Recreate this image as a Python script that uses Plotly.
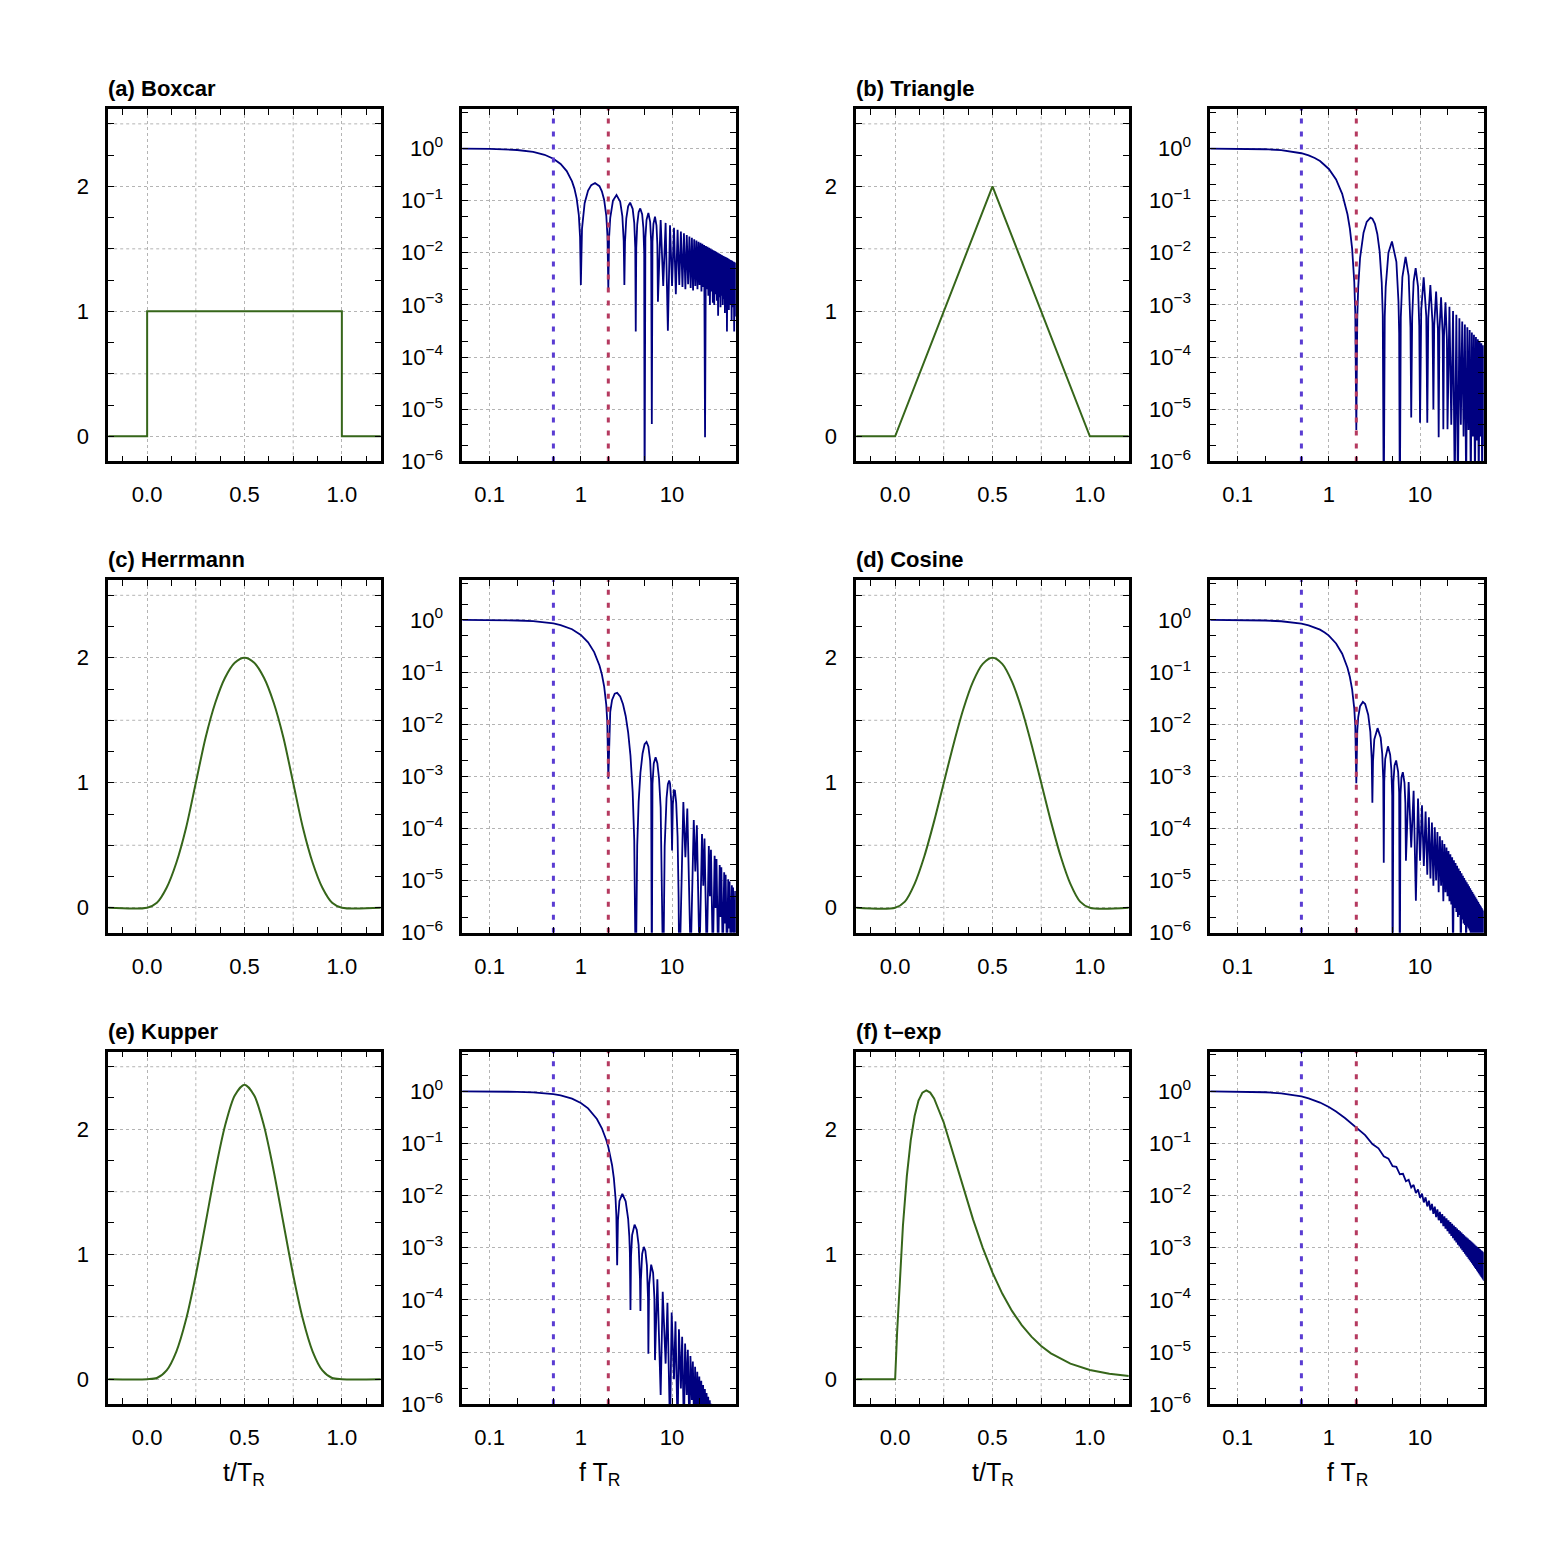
import math
import plotly.graph_objects as go

# ---------------- source time functions (t / T_R) ----------------
box_t = [-0.2, 0.0, 0.0, 1.0, 1.0, 1.2]
box_s = [0, 0, 1, 1, 0, 0]

tri_t = [-0.2, 0.0, 0.5, 1.0, 1.2]
tri_s = [0, 0, 2, 0, 0]

bump_t = [-0.2, 0.0, 0.05, 0.1, 0.15, 0.2, 0.25, 0.3, 0.35, 0.4, 0.45, 0.5,
          0.55, 0.6, 0.65, 0.7, 0.75, 0.8, 0.85, 0.9, 0.95, 1.0, 1.2]
herr_s = [0, 0, 0.04, 0.16, 0.36, 0.64, 1.0, 1.36, 1.64, 1.84, 1.96, 2.0,
          1.96, 1.84, 1.64, 1.36, 1.0, 0.64, 0.36, 0.16, 0.04, 0, 0]
cos_s = [0, 0, 0.049, 0.191, 0.412, 0.691, 1.0, 1.309, 1.588, 1.809, 1.951, 2.0,
         1.951, 1.809, 1.588, 1.309, 1.0, 0.691, 0.412, 0.191, 0.049, 0, 0]
kup_s = [0, 0, 0.009, 0.070, 0.221, 0.479, 0.833, 1.248, 1.666, 2.027, 2.270, 2.356,
         2.270, 2.027, 1.666, 1.248, 0.833, 0.479, 0.221, 0.070, 0.009, 0, 0]

texp_t = [-0.2, 0.0, 0.01, 0.02, 0.03, 0.04, 0.06, 0.08, 0.10, 0.12, 0.14, 0.16, 0.18, 0.20,
          0.25, 0.30, 0.35, 0.40, 0.45, 0.50, 0.55, 0.60, 0.65, 0.70, 0.75, 0.80, 0.90,
          1.00, 1.10, 1.20]
texp_s = [0, 0, 0.371, 0.696, 0.981, 1.228, 1.625, 1.910, 2.106, 2.229, 2.293, 2.311, 2.293, 2.247,
          2.052, 1.798, 1.532, 1.279, 1.051, 0.853, 0.685, 0.546, 0.432, 0.340, 0.266, 0.207, 0.124,
          0.074, 0.043, 0.025]

# ---------------- amplitude spectra (f T_R) ----------------
# smooth part + first lobes
box_f = [0.05, 0.1, 0.2, 0.3, 0.4, 0.5, 0.6, 0.7, 0.8, 0.85, 0.9, 0.95, 0.98, 1.0,
         1.03, 1.1, 1.2, 1.3, 1.43, 1.6, 1.7, 1.8, 1.9, 1.96, 2.0,
         2.04, 2.1, 2.25, 2.46, 2.7, 2.85, 2.95, 3.0,
         3.05, 3.15, 3.3, 3.47, 3.7, 3.85, 3.95, 4.0,
         4.05, 4.15, 4.3, 4.48, 4.7, 4.85, 4.95, 5.0,
         5.1, 5.25, 5.5, 5.75, 5.9, 6.0,
         6.1, 6.25, 6.5, 6.75, 6.9, 7.0]
box_amp = [0.996, 0.984, 0.935, 0.858, 0.757, 0.637, 0.505, 0.368, 0.234, 0.170, 0.109, 0.0526, 0.0204, 0.0024,
           0.0291, 0.0894, 0.156, 0.198, 0.217, 0.189, 0.151, 0.104, 0.0518, 0.0203, 0.0020,
           0.0196, 0.0468, 0.100, 0.128, 0.0954, 0.0507, 0.0169, 0.0024,
           0.0163, 0.0459, 0.078, 0.0913, 0.0696, 0.0375, 0.0126, 3.1e-4,
           0.0123, 0.0348, 0.0599, 0.0709, 0.0548, 0.0298, 0.0101, 1e-7,
           0.0193, 0.0429, 0.0579, 0.0392, 0.0167, 5.2e-6,
           0.0161, 0.036, 0.049, 0.0333, 0.0143, 1.15e-3]

# dense lobes: peak then notch
half_f = [7.5, 8.5, 9.5, 10.5, 11.5, 12.5, 13.5, 14.5, 15.5, 16.5, 17.5, 18.5, 19.5, 20.5,
          21.5, 22.5, 23.5, 24.5, 25.5, 26.5, 27.5, 28.5, 29.5, 30.5, 31.5, 32.5, 33.5, 34.5,
          35.5, 36.5, 37.5, 38.5, 39.5, 40.5, 41.5, 42.5, 43.5, 44.5, 45.5, 46.5, 47.5, 48.5, 49.5]
whole_f = [8, 9, 10, 11, 12, 13, 14, 15, 16, 17, 18, 19, 20, 21, 22, 23, 24, 25, 26, 27, 28,
           29, 30, 31, 32, 33, 34, 35, 36, 37, 38, 39, 40, 41, 42, 43, 44, 45, 46, 47, 48, 49, 50]

box_peak_amp = [0.0424, 0.0374, 0.0335, 0.0303, 0.0277, 0.0255, 0.0236, 0.0220, 0.0205, 0.0193,
                0.0182, 0.0172, 0.0163, 0.0155, 0.0148, 0.0141, 0.0135, 0.0130, 0.0125, 0.0120,
                0.0116, 0.0112, 0.0108, 0.0104, 0.0101, 0.0098, 0.0095, 0.0092, 0.0090, 0.0087,
                0.0085, 0.0083, 0.0081, 0.0079, 0.0077, 0.0075, 0.0073, 0.0072, 0.0070, 0.0068,
                0.0067, 0.0066, 0.0064]
box_notch_amp = [2.3e-3, 3.2e-4, 2.3e-3, 1.6e-3, 2.4e-3, 2.2e-3, 2.0e-3, 2.5e-3, 2.1e-3, 1.9e-3,
                 2.3e-3, 2.0e-3, 2.4e-3, 1.8e-3, 2.2e-3, 2.9e-6, 2.0e-3, 1.5e-3, 1.0e-3, 1.8e-3,
                 1.1e-3, 1.0e-3, 1.6e-3, 1.2e-3, 6.2e-4, 1.4e-3, 9e-4, 1.5e-3, 1.0e-3, 1.3e-3,
                 7e-4, 1.4e-3, 3.1e-4, 1.2e-3, 8e-4, 1.3e-3, 1.0e-3, 5e-4, 1.2e-3, 9e-4,
                 3.1e-4, 1.1e-3, 6e-4]

tri_f = [0.05, 0.1, 0.2, 0.3, 0.4, 0.5, 0.6, 0.7, 0.8, 1.0, 1.2, 1.4, 1.6, 1.7, 1.8, 1.9, 1.95, 2.0,
         2.05, 2.1, 2.2, 2.4, 2.6, 2.86, 3.0, 3.2, 3.4, 3.6, 3.8, 3.9, 4.0,
         4.1, 4.2, 4.5, 4.92, 5.5, 5.8, 5.9, 6.0,
         6.15, 6.4, 6.94, 7.5, 7.85, 8.0,
         8.2, 8.5, 8.95, 9.5, 9.8, 10.0,
         10.3, 10.96, 11.7, 12.0,
         12.3, 12.97, 13.7, 14.0,
         14.3, 15.0, 15.7, 16.0,
         16.3, 17.0, 17.7, 18.0,
         18.3, 19.0, 19.7, 20.0]
tri_amp = [0.998, 0.992, 0.968, 0.928, 0.875, 0.811, 0.737, 0.657, 0.573, 0.405, 0.255, 0.135,
           0.0547, 0.0289, 0.0120, 2.75e-3, 6.6e-4, 4e-6,
           5.9e-4, 2.25e-3, 8.0e-3, 0.0243, 0.0392, 0.0472, 0.0450, 0.0358, 0.0229, 0.0108,
           2.68e-3, 6.5e-4, 1e-7,
           5.9e-4, 2.19e-3, 0.0100, 0.0165, 6.7e-3, 1.15e-3, 2.85e-4, 1e-7,
           5.8e-4, 3.4e-3, 8.3e-3, 3.6e-3, 3.6e-4, 6.9e-6,
           5.75e-4, 2.8e-3, 5.06e-3, 2.25e-3, 4.0e-4, 5.5e-6,
           7.9e-4, 3.37e-3, 6.1e-4, 5.5e-6,
           5.5e-4, 2.41e-3, 4.45e-4, 1e-5,
           4.1e-4, 1.8e-3, 3.4e-4, 2.9e-6,
           3.1e-4, 1.4e-3, 2.7e-4, 4.1e-6,
           2.5e-4, 1.12e-3, 2.15e-4, 4.1e-6]
tri_peak_f = [21, 23, 25, 27, 29, 31, 33, 35, 37, 39, 41, 43, 45, 47, 49]
tri_peak_amp = [9.19e-4, 7.66e-4, 6.48e-4, 5.56e-4, 4.82e-4, 4.22e-4, 3.72e-4, 3.31e-4,
                2.96e-4, 2.66e-4, 2.41e-4, 2.19e-4, 2.00e-4, 1.83e-4, 1.69e-4]
tri_notch_f = [22, 24, 26, 28, 30, 32, 34, 36, 38, 40, 42, 44, 46, 48, 50]
tri_notch_amp = [5e-6, 3e-7, 3e-7, 5e-6, 3e-6, 3e-7, 4e-6, 3e-7, 3e-6, 3e-7, 2.5e-6, 3e-7,
                 3e-6, 3e-7, 2e-6]

herr_f = [0.05, 0.1, 0.2, 0.3, 0.4, 0.5, 0.6, 0.7, 0.8, 1.0, 1.2, 1.4, 1.6, 1.7, 1.8, 1.9, 1.95, 2.0,
          2.05, 2.1, 2.2, 2.35, 2.5, 2.7, 2.9, 3.1, 3.3, 3.5, 3.7, 3.85, 4.0,
          4.15, 4.3, 4.5, 4.75, 5.0, 5.25, 5.5, 5.75, 5.9, 6.0,
          6.1, 6.3, 6.6, 6.9, 7.2, 7.5, 7.8, 8.0,
          8.3, 8.7, 9.0, 9.3, 9.5, 9.8, 10.0,
          10.2, 10.5, 10.75, 11.1, 11.5, 11.8, 12.0]
herr_amp = [0.9985, 0.9938, 0.9756, 0.9457, 0.9051, 0.855, 0.797, 0.732, 0.662, 0.516, 0.372, 0.242,
            0.134, 0.0902, 0.0534, 0.0234, 0.0109, 9e-4,
            9.4e-3, 0.0173, 0.0292, 0.0385, 0.0399, 0.0340, 0.0242, 0.0144, 7.0e-3, 2.49e-3, 5.0e-4,
            5.8e-5, 1e-7,
            4.7e-5, 3.2e-4, 1.17e-3, 2.74e-3, 4.12e-3, 4.56e-3, 3.74e-3, 2.0e-3, 7.8e-4, 1e-7,
            7.1e-4, 1.77e-3, 2.31e-3, 1.79e-3, 9.1e-4, 2.5e-4, 1.6e-5, 1e-7,
            4.5e-5, 3.8e-4, 7.1e-4, 8.3e-4, 7.3e-4, 3.3e-4, 3.8e-5,
            2.9e-4, 5.4e-4, 5.3e-4, 3.1e-4, 7e-5, 4.8e-6, 1e-7]
herr_peak_f = [13.3, 14.7, 17.3, 18.7, 21.3, 22.7, 25.3, 26.7, 29.3, 30.7, 33.3, 34.7, 37.3,
               38.7, 41.3, 42.7, 45.3, 46.7, 49.3]
herr_peak_amp = [3.2e-4, 2.4e-4, 1.45e-4, 1.15e-4, 7.8e-5, 6.4e-5, 4.6e-5, 3.9e-5, 3.0e-5, 2.6e-5,
                 2.0e-5, 1.8e-5, 1.45e-5, 1.29e-5, 1.06e-5, 9.6e-6, 8.1e-6, 7.4e-6, 6.3e-6]
herr_notch_f = [14, 16, 18, 20, 22, 24, 26, 28, 30, 32, 34, 36, 38, 40, 42, 44, 46, 48, 50]
herr_notch_amp = [2.8e-5, 3e-7, 1.5e-5, 3e-7, 8e-6, 3e-7, 5e-6, 3e-7, 3e-6, 3e-7, 2e-6, 3e-7,
                  1.5e-6, 3e-7, 1.2e-6, 3e-7, 1e-6, 3e-7, 1e-6]

cos_f = [0.05, 0.1, 0.2, 0.3, 0.4, 0.5, 0.6, 0.7, 0.8, 0.9, 1.0, 1.2, 1.4, 1.6, 1.7, 1.8, 1.9, 1.95, 2.0,
         2.05, 2.1, 2.2, 2.36, 2.5, 2.7, 2.85, 2.95, 3.0,
         3.05, 3.15, 3.42, 3.7, 3.85, 3.95, 4.0,
         4.05, 4.15, 4.45, 4.7, 4.85, 4.95, 5.0,
         5.1, 5.25, 5.47, 5.75, 5.9, 6.0,
         6.1, 6.25, 6.47, 6.75, 6.9, 7.0]
cos_amp = [0.9984, 0.9936, 0.9745, 0.9433, 0.901, 0.849, 0.788, 0.721, 0.650, 0.575, 0.5, 0.354,
           0.225, 0.121, 0.0802, 0.0464, 0.0199, 9.1e-3, 7.4e-4,
           7.6e-3, 0.0137, 0.0222, 0.0267, 0.0243, 0.0152, 7.1e-3, 2.19e-3, 3.1e-4,
           1.96e-3, 5.1e-3, 8.4e-3, 5.5e-3, 2.7e-3, 8.6e-4, 2.2e-5,
           8.0e-4, 2.15e-3, 3.76e-3, 2.6e-3, 1.32e-3, 4.3e-4, 1e-7,
           7.7e-4, 1.62e-3, 2.01e-3, 1.22e-3, 4.9e-4, 1e-7,
           4.45e-4, 9.5e-4, 1.2e-3, 7.5e-4, 3.1e-4, 2.4e-5]
cos_peak_amp = [7.74e-4, 5.29e-4, 3.77e-4, 2.77e-4, 2.11e-4, 1.64e-4, 1.30e-4, 1.05e-4, 8.58e-5,
                7.11e-5, 5.96e-5, 5.04e-5, 4.30e-5, 3.70e-5, 3.21e-5, 2.80e-5, 2.46e-5, 2.17e-5,
                1.92e-5, 1.71e-5, 1.53e-5, 1.38e-5, 1.24e-5, 1.12e-5, 1.02e-5, 9.28e-6, 8.47e-6,
                7.76e-6, 7.12e-6, 6.55e-6, 6.04e-6, 5.58e-6, 5.17e-6, 4.79e-6, 4.46e-6, 4.15e-6,
                3.87e-6, 3.61e-6, 3.38e-6, 3.17e-6, 2.97e-6, 2.79e-6, 2.63e-6]
cos_notch_amp = [4.3e-5, 4.1e-6, 2.4e-5, 1.9e-5, 1.3e-5, 1.1e-5, 8e-6, 1.0e-5, 6e-6, 8e-6,
                 4e-6, 6e-6, 5e-6, 4e-6, 3.5e-6, 3e-7, 3e-6, 2.5e-6, 2e-6, 2.2e-6,
                 3e-7, 1.8e-6, 1.5e-6, 1.4e-6, 3e-7, 1.3e-6, 1.2e-6, 1.1e-6, 3e-7, 1.0e-6,
                 3e-7, 9e-7, 3e-7, 8e-7, 3e-7, 8e-7, 3e-7, 7e-7, 3e-7, 7e-7,
                 3e-7, 6e-7, 3e-7]

kup_f = [0.05, 0.1, 0.2, 0.3, 0.4, 0.5, 0.6, 0.7, 0.8, 1.0, 1.2, 1.5, 1.7, 1.9, 2.0, 2.2, 2.3, 2.4,
         2.45, 2.5,
         2.55, 2.65, 2.85, 3.1, 3.3, 3.4, 3.45, 3.5,
         3.55, 3.65, 3.88, 4.1, 4.3, 4.45, 4.5,
         4.55, 4.7, 4.9, 5.1, 5.3, 5.45, 5.5,
         5.6, 5.9, 6.2, 6.4, 6.5]
kup_amp = [0.9988, 0.9951, 0.9805, 0.9567, 0.9241, 0.8836, 0.836, 0.783, 0.725, 0.600, 0.472, 0.2945,
           0.1957, 0.1171, 0.0857, 0.0383, 0.0216, 9.0e-3, 4.1e-3, 4.6e-4,
           3.3e-3, 7.9e-3, 0.0108, 7.8e-3, 3.6e-3, 1.65e-3, 7.8e-4, 6.4e-5,
           6.9e-4, 1.76e-3, 2.77e-3, 2.22e-3, 1.12e-3, 2.56e-4, 6.1e-5,
           2.33e-4, 7.6e-4, 1.04e-3, 8.7e-4, 4.6e-4, 1.09e-4, 9.3e-6,
           1.92e-4, 4.75e-4, 3.3e-4, 1.1e-4, 7e-6]
kup_peak_f = [6.9, 7.9, 8.9, 9.9, 10.9, 11.9, 12.9, 13.9, 14.9, 15.9, 16.9, 17.9, 18.9, 19.9,
              20.9, 21.9, 22.9, 23.9, 24.9, 25.9, 26.9, 27.9, 28.9]
kup_peak_amp = [2.49e-4, 1.43e-4, 8.8e-5, 5.7e-5, 3.87e-5, 2.72e-5, 1.96e-5, 1.45e-5, 1.10e-5,
                8.37e-6, 6.56e-6, 5.21e-6, 4.19e-6, 3.41e-6, 2.80e-6, 2.33e-6, 1.95e-6, 1.64e-6,
                1.39e-6, 1.19e-6, 1.02e-6, 8.8e-7, 7.7e-7]
kup_notch_f = [7.5, 8.5, 9.5, 10.5, 11.5, 12.5, 13.5, 14.5, 15.5, 16.5, 17.5, 18.5, 19.5, 20.5,
               21.5, 22.5, 23.5, 24.5, 25.5, 26.5, 27.5, 28.5, 29.5]
kup_notch_amp = [1.5e-6, 6e-6, 3e-7, 3e-6, 3e-7, 2e-6, 3e-7, 1.5e-6, 3e-7, 1.2e-6, 3e-7, 3e-7,
                 3e-7, 3e-7, 3e-7, 3e-7, 3e-7, 3e-7, 3e-7, 3e-7, 3e-7, 3e-7, 3e-7]

texp_f = [0.05, 0.1, 0.2, 0.3, 0.4, 0.5, 0.6, 0.7, 0.8, 1.0, 1.2, 1.5, 2.0,
          2.5, 3.0, 3.5, 4.0, 4.5, 5.0, 5.5, 6.0, 6.5, 7.0, 7.5, 8.0, 8.5, 9.0, 9.5, 10.0,
          10.5, 11.0, 11.5, 12.0, 12.5, 13.0, 13.5, 14.0, 14.5, 15.0, 15.5, 16.0, 16.5, 17.0,
          17.5, 18.0, 18.5, 19.0, 19.5, 20.0, 20.5, 21.0, 21.5, 22.0, 22.5, 23.0, 23.5, 24.0,
          24.5, 25.0, 25.5, 26.0, 26.5, 27.0, 27.5, 28.0, 28.5, 29.0, 29.5, 30.0, 30.5, 31.0,
          31.5, 32.0, 32.5, 33.0, 33.5, 34.0, 34.5, 35.0, 35.5, 36.0, 36.5, 37.0, 37.5, 38.0,
          38.5, 39.0, 39.5, 40.0, 40.5, 41.0, 41.5, 42.0, 42.5, 43.0, 43.5, 44.0, 44.5, 45.0,
          45.5, 46.0, 46.5, 47.0, 47.5, 48.0, 48.5, 49.0, 49.5, 50.0]
texp_amp = [0.9975, 0.990, 0.9615, 0.917, 0.862, 0.800, 0.735, 0.671, 0.610, 0.500, 0.410, 0.308, 0.200,
            0.1449, 0.0975, 0.0809, 0.0568, 0.0514, 0.0368, 0.0356, 0.0257, 0.0262, 0.0188, 0.0201,
            0.01435, 0.01602, 0.01128, 0.01308, 0.00907,
            0.01092, 0.00744, 0.00926, 0.0062, 0.00798, 0.00524, 0.00696, 0.00448, 0.00613, 0.00386,
            0.00546, 0.00337, 0.00489, 0.00296,
            0.00441, 0.00261, 0.00401, 0.00232, 0.00366, 0.00207, 0.00337, 0.00186, 0.00311, 0.00168,
            0.00288, 0.00152, 0.00268, 0.00138,
            0.00249, 0.00126, 0.00234, 0.00115, 0.00219, 0.00106, 0.00206, 0.000974, 0.00195,
            0.000899, 0.00184, 0.00083, 0.00174, 0.000769,
            0.00165, 0.000714, 0.00157, 0.000663, 0.0015, 0.000617, 0.00143, 0.000576, 0.00137,
            0.000538, 0.00131, 0.000503, 0.00126, 0.000471,
            0.0012, 0.000442, 0.00116, 0.000415, 0.00111, 0.00039, 0.00107, 0.000367, 0.00103,
            0.000346, 0.000997, 0.000325, 0.000963, 0.000307,
            0.000931, 0.00029, 0.0009, 0.000274, 0.000872, 0.000259, 0.000846, 0.000245, 0.00082,
            0.000232]

# frequencies marked by the dotted lines
split_f = [0.5, 2.0]

titles = ["(a) Boxcar", "(b) Triangle", "(c) Herrmann", "(d) Cosine", "(e) Kupper", "(f) t\u2013exp"]


def lobes(f, amp, peak_f, peak_amp, notch_f, notch_amp):
    xs, ys = list(f), list(amp)
    for pf, pa, nf, na in zip(peak_f, peak_amp, notch_f, notch_amp):
        xs += [pf, nf]
        ys += [pa, na]
    return xs, ys


panels = [
    (box_t, box_s, "linear", lobes(box_f, box_amp, half_f, box_peak_amp, whole_f, box_notch_amp)),
    (tri_t, tri_s, "linear", lobes(tri_f, tri_amp, tri_peak_f, tri_peak_amp, tri_notch_f, tri_notch_amp)),
    (bump_t, herr_s, "spline", lobes(herr_f, herr_amp, herr_peak_f, herr_peak_amp, herr_notch_f, herr_notch_amp)),
    (bump_t, cos_s, "spline", lobes(cos_f, cos_amp, half_f, cos_peak_amp, whole_f, cos_notch_amp)),
    (bump_t, kup_s, "spline", lobes(kup_f, kup_amp, kup_peak_f, kup_peak_amp, kup_notch_f, kup_notch_amp)),
    (texp_t, texp_s, "linear", (texp_f, texp_amp)),
]

FONT = "Liberation Sans, Arial, Helvetica, sans-serif"
W, H = 1566, 1568
col_px = [(107, 382, 461, 737), (855, 1130, 1209, 1485)]
row_px = [(105, 461), (578, 934), (1051, 1407)]
green = "#36661a"
navy = "#000080"
grid_col = "#b4b4b4"
split_colors = ["#5a3cd2", "#b5395f"]


# screen pixel -> paper fraction (page margin and screenshot squeeze measured)
def fx_(p):
    return (p - 8) / W


def fy_(p):
    return 1 - ((p - 5) / 0.995) / H


def frame(**kw):
    d = dict(showline=True, linecolor="black", linewidth=2.5, mirror="ticks",
             ticks="inside", ticklen=6, tickwidth=1.4, tickcolor="black",
             showgrid=True, gridcolor=grid_col, gridwidth=1, griddash="dot",
             zeroline=False, tickfont=dict(family=FONT, size=22, color="black"),
             ticklabelstandoff=12, fixedrange=True)
    d.update(kw)
    return d


def minor(vals):
    return dict(tickmode="array", tickvals=vals, ticks="inside", ticklen=6,
                tickwidth=1.4, tickcolor="black", showgrid=False)


fig = go.Figure()
layout = {}
notes = []
shapes = []
sup = ["10<sup>\u22126</sup>", "10<sup>\u22125</sup>", "10<sup>\u22124</sup>",
       "10<sup>\u22123</sup>", "10<sup>\u22122</sup>", "10<sup>\u22121</sup>", "10<sup>0</sup>"]

for k, (t, s, shape, (fx, fy)) in enumerate(panels):
    r, c = divmod(k, 2)
    tx0, tx1, sx0, sx1 = col_px[c]
    y0, y1 = row_px[r]
    ydom = [fy_(y1 - 1.2), fy_(y0 + 1.2)]
    na, nb = 2 * k + 1, 2 * k + 2
    xa = "x" if na == 1 else f"x{na}"
    ya = "y" if na == 1 else f"y{na}"
    xb, yb = f"x{nb}", f"y{nb}"

    fig.add_trace(go.Scatter(x=t, y=s, mode="lines", xaxis=xa, yaxis=ya,
                             line=dict(color=green, width=2, shape=shape, smoothing=0.8),
                             showlegend=False, hoverinfo="skip"))
    fig.add_trace(go.Scatter(x=fx, y=fy, mode="lines", xaxis=xb, yaxis=yb,
                             line=dict(color=navy, width=1.8),
                             showlegend=False, hoverinfo="skip"))
    for f0, col in zip(split_f, split_colors):
        fig.add_trace(go.Scatter(x=[f0, f0], y=[1e-7, 10], mode="lines", xaxis=xb, yaxis=yb,
                                 line=dict(color=col, width=3, dash="5px,8px"),
                                 showlegend=False, hoverinfo="skip"))

    # in-between dotted grid lines of the time panels
    for gx in [0.25, 0.75]:
        shapes.append(dict(type="line", xref=xa, yref=f"{ya} domain", x0=gx, x1=gx, y0=0, y1=1,
                           layer="below", line=dict(color=grid_col, width=1, dash="dot")))
    for gy in [0.5, 1.5, 2.5]:
        shapes.append(dict(type="line", xref=f"{xa} domain", yref=ya, x0=0, x1=1, y0=gy, y1=gy,
                           layer="below", line=dict(color=grid_col, width=1, dash="dot")))

    layout["xaxis" if na == 1 else f"xaxis{na}"] = frame(
        domain=[fx_(tx0 + 1.2), fx_(tx1 - 1.2)], anchor=ya, range=[-0.2, 1.2],
        tickmode="array", tickvals=[0, 0.5, 1.0], ticktext=["0.0", "0.5", "1.0"],
        minor=minor([-0.125, 0.125, 0.25, 0.375, 0.625, 0.75, 0.875, 1.125]))
    layout["yaxis" if na == 1 else f"yaxis{na}"] = frame(
        domain=ydom, anchor=xa, range=[-0.2, 2.62],
        tickmode="array", tickvals=[0, 1, 2], ticktext=["0", "1", "2"],
        minor=minor([0.25, 0.5, 0.75, 1.25, 1.5, 1.75, 2.25, 2.5]))
    layout[f"xaxis{nb}"] = frame(
        domain=[fx_(sx0 + 1.2), fx_(sx1 - 1.2)], anchor=yb, type="log",
        range=[math.log10(0.05), math.log10(50)],
        tickmode="array", tickvals=[0.1, 1, 10], ticktext=["0.1", "1", "10"],
        minor=minor([0.2, 0.5, 2, 5, 20]))
    layout[f"yaxis{nb}"] = frame(
        domain=ydom, anchor=xb, type="log", range=[-6, 0.76],
        tickmode="array", tickvals=[1e-6, 1e-5, 1e-4, 1e-3, 1e-2, 1e-1, 1],
        ticktext=sup,
        minor=minor([2e-6, 5e-6, 2e-5, 5e-5, 2e-4, 5e-4, 2e-3, 5e-3, 2e-2, 5e-2,
                     0.2, 0.5, 2, 5]))

    notes.append(dict(text=f"<b>{titles[k]}</b>", xref="paper", yref="paper",
                      x=fx_(tx0 - 1), y=fy_(y0 - 5), xanchor="left", yanchor="bottom",
                      showarrow=False, font=dict(family=FONT, size=22, color="black")))
    if r == 2:
        notes.append(dict(text="t/T<sub>R</sub>", xref="paper", yref="paper",
                          x=fx_((tx0 + tx1) / 2), y=fy_(1476), xanchor="center",
                          yanchor="middle", showarrow=False,
                          font=dict(family=FONT, size=25, color="black")))
        notes.append(dict(text="f T<sub>R</sub>", xref="paper", yref="paper",
                          x=fx_((sx0 + sx1) / 2), y=fy_(1476), xanchor="center",
                          yanchor="middle", showarrow=False,
                          font=dict(family=FONT, size=25, color="black")))

fig.update_layout(width=W, height=H, margin=dict(l=0, r=0, t=0, b=0),
                  paper_bgcolor="white", plot_bgcolor="white",
                  showlegend=False, annotations=notes, shapes=shapes, **layout)

fig.write_html("out.html")
